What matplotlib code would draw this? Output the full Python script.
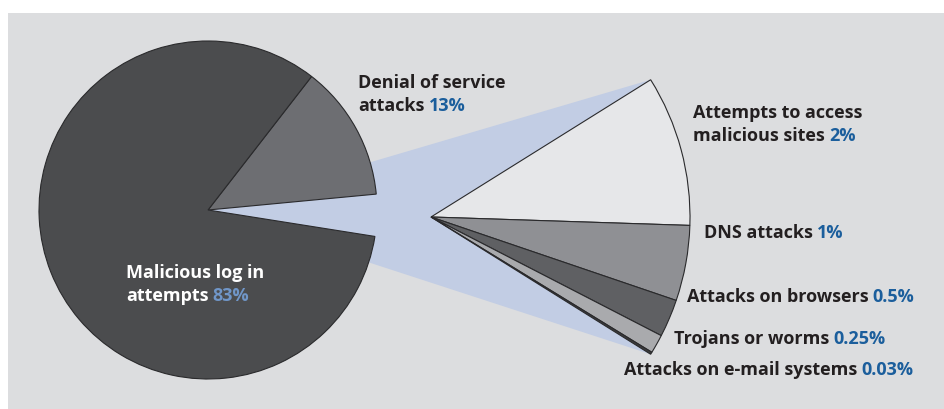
import matplotlib.pyplot as plt
from matplotlib.patches import Polygon, Rectangle
import numpy as np

# main pie (percent)
main_labels = ['Denial of service\nattacks', 'Malicious log in\nattempts', 'Other']
main_vals = [13, 83, 4]
main_pct = ['13%', '83%', '']

# breakdown of the "other" slice (percent)
sub_labels = ['Attempts to access\nmalicious sites', 'DNS attacks', 'Attacks on browsers',
              'Trojans or worms', 'Attacks on e-mail systems']
sub_vals = [2, 1, 0.5, 0.25, 0.03]
sub_pct = ['2%', '1%', '0.5%', '0.25%', '0.03%']

W, H = 944, 409
fig = plt.figure(figsize=(W/100, H/100), dpi=100, facecolor='white')
ax = fig.add_axes([0, 0, 1, 1])
ax.set_xlim(0, W)
ax.set_ylim(0, H)
ax.axis('off')

bg = '#dcdddf'
ax.add_patch(Rectangle((8, 0), W - 8, H - 13, facecolor=bg, edgecolor='none', zorder=0))

edge = '#2a2a2c'
main_c = (208, H - 210)
main_r = 169
sub_c = (431, H - 217)
sub_r = 259
span = 64.0
start = span / 2

# blue connector from main centre to the ends of the fan
t0 = np.deg2rad(start)
t1 = np.deg2rad(start - span)
p0 = (sub_c[0] + sub_r*np.cos(t0), sub_c[1] + sub_r*np.sin(t0))
p1 = (sub_c[0] + sub_r*np.cos(t1), sub_c[1] + sub_r*np.sin(t1))
ax.add_patch(Polygon([main_c, p0, p1], closed=True, facecolor='#c2cde4',
                     edgecolor='none', zorder=1))

wedges, _ = ax.pie(main_vals, center=main_c, radius=main_r, startangle=5.4,
                   counterclock=True, colors=['#6d6e72', '#4b4c4e', 'none'],
                   wedgeprops=dict(edgecolor=edge, linewidth=0.8), frame=True)
wedges[2].set_visible(False)
for w in wedges:
    w.set_zorder(2)

rest = sum(sub_vals) * (360.0/span - 1)
sub_w, _ = ax.pie(sub_vals + [rest], center=sub_c, radius=sub_r, startangle=start,
                  counterclock=False,
                  colors=['#e6e7e9', '#8f9094', '#5f6063', '#a9aaad', '#3c3c3e', 'none'],
                  wedgeprops=dict(edgecolor=edge, linewidth=0.8), frame=True)
sub_w[-1].set_visible(False)
for w in sub_w:
    w.set_zorder(2)

ax.set_xlim(0, W)
ax.set_ylim(0, H)
ax.axis('off')

font = dict(family='Open Sans', weight='bold', size=13)
dark = '#231f20'
blue = '#1b5e9c'


def label(x, y, txt, pct, col=dark, pcol=blue):
    lines = txt.split('\n')
    dy = 23
    y0 = y
    for i, ln in enumerate(lines):
        yy = H - (y0 + i*dy)
        t = ax.text(x, yy, ln, color=col, ha='left', va='center', zorder=5, **font)
        if i == len(lines) - 1 and pct:
            ax.annotate(pct, xy=(1, 0), xycoords=t, xytext=(3, 0),
                        textcoords='offset points', ha='left', va='bottom',
                        color=pcol, zorder=5, **font)


label(358, 83, main_labels[0], main_pct[0])
label(126, 273, main_labels[1], main_pct[1], col='white', pcol='#7096c8')
label(693, 113, sub_labels[0], sub_pct[0])
label(704, 233, sub_labels[1], sub_pct[1])
label(687, 297, sub_labels[2], sub_pct[2])
label(674, 339, sub_labels[3], sub_pct[3])
label(624, 370, sub_labels[4], sub_pct[4])

fig.savefig('out.png', dpi=100, facecolor='white')
